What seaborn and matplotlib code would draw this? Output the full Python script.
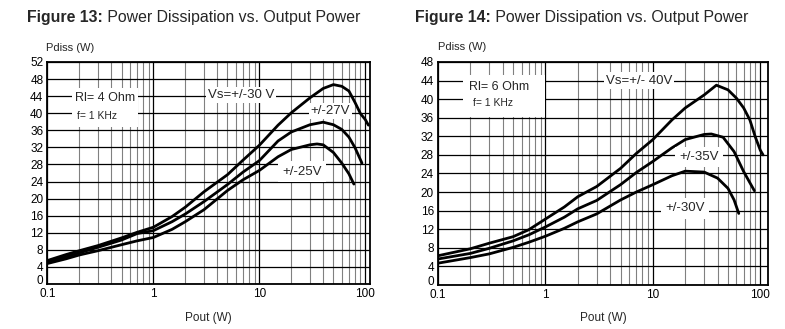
import matplotlib
matplotlib.use("Agg")
import matplotlib.pyplot as plt
from matplotlib.patches import Rectangle
from matplotlib.ticker import LogLocator, NullFormatter, FixedLocator, FixedFormatter
import numpy as np
import pandas as pd
import seaborn as sns

# ---------------- data ----------------
# Figure 13 : Rl = 4 Ohm
f13_x_30 = [0.1, 0.15, 0.2, 0.3, 0.5, 0.7, 1, 1.5, 2, 3, 5, 7, 10, 15, 20, 30, 40, 50, 60, 70, 80, 90, 100, 107]
f13_y_30 = [5.5, 6.9, 7.8, 9.0, 10.8, 12.1, 13.3, 15.8, 18.0, 21.6, 25.6, 29.0, 32.5, 37.2, 40.1, 43.6, 45.8, 46.7, 46.3, 45.2, 42.5, 39.9, 38.5, 37.2]
f13_x_27 = [0.1, 0.15, 0.2, 0.3, 0.5, 0.7, 1, 1.5, 2, 3, 5, 7, 10, 15, 20, 30, 40, 50, 60, 70, 80, 93]
f13_y_27 = [5.1, 6.4, 7.3, 8.6, 10.3, 11.8, 12.5, 14.6, 16.4, 19.3, 23.3, 26.2, 28.9, 33.5, 35.6, 37.3, 37.9, 37.3, 36.2, 34.4, 31.9, 28.3]
f13_x_25 = [0.1, 0.15, 0.2, 0.3, 0.5, 0.7, 1, 1.5, 2, 3, 5, 7, 10, 15, 20, 30, 35, 40, 50, 60, 70, 78]
f13_y_25 = [4.8, 5.9, 6.8, 7.8, 9.2, 10.1, 10.9, 12.8, 14.6, 17.4, 21.9, 24.4, 26.6, 29.8, 31.5, 32.6, 32.8, 32.6, 30.8, 28.3, 25.8, 23.4]

# Figure 14 : Rl = 6 Ohm
f14_x_40 = [0.1, 0.2, 0.3, 0.5, 0.7, 1, 1.5, 2, 3, 5, 7, 10, 15, 20, 30, 39, 50, 60, 70, 80, 90, 100, 106]
f14_y_40 = [6.3, 7.8, 9.0, 10.4, 11.9, 14.2, 16.8, 19.0, 21.2, 25.1, 28.3, 31.3, 35.5, 38.1, 40.9, 43.0, 42.0, 40.2, 38.1, 35.5, 31.8, 29.0, 28.0]
f14_x_35 = [0.1, 0.2, 0.3, 0.5, 0.7, 1, 1.5, 2, 3, 5, 7, 10, 15, 20, 30, 35, 45, 57, 70, 80, 88]
f14_y_35 = [5.6, 6.8, 7.9, 9.5, 10.8, 12.5, 14.6, 16.4, 18.2, 21.6, 24.2, 26.6, 29.5, 31.3, 32.4, 32.5, 31.8, 28.7, 24.4, 22.0, 20.3]
f14_x_30 = [0.1, 0.2, 0.3, 0.5, 0.7, 1, 1.5, 2, 3, 5, 7, 10, 15, 20, 30, 40, 50, 57, 63]
f14_y_30 = [4.7, 5.9, 6.7, 8.1, 9.2, 10.5, 12.2, 13.6, 15.3, 18.3, 20.0, 21.6, 23.5, 24.5, 24.3, 23.0, 20.8, 18.3, 15.4]

x_ticks = [0.1, 1, 10, 100]
x_tick_labels = ["0.1", "1", "10", "100"]
y_ticks_13 = list(range(0, 53, 4))
y_ticks_14 = list(range(0, 49, 4))


def frame(pairs):
    rows = []
    for name, xs, ys in pairs:
        for xv, yv in zip(xs, ys):
            rows.append({"series": name, "x": xv, "y": yv})
    return pd.DataFrame(rows)


df13 = frame([("30", f13_x_30, f13_y_30), ("27", f13_x_27, f13_y_27), ("25", f13_x_25, f13_y_25)])
df14 = frame([("40", f14_x_40, f14_y_40), ("35", f14_x_35, f14_y_35), ("30", f14_x_30, f14_y_30)])

# ---------------- style ----------------
sns.set_theme(style="white")
plt.rcParams['font.family'] = ['Liberation Sans', 'DejaVu Sans']

fig = plt.figure(figsize=(7.85, 3.29), dpi=100)
ax1 = fig.add_axes([0.0605, 0.1368, 0.411, 0.6748])
ax2 = fig.add_axes([0.558, 0.1337, 0.4204, 0.678])


def style_axes(ax, xmax, ymax, yticks):
    ax.set_xscale('log')
    ax.set_xlim(0.1, xmax)
    ax.set_ylim(0, ymax)
    ax.xaxis.set_major_locator(FixedLocator(x_ticks))
    ax.xaxis.set_major_formatter(FixedFormatter(x_tick_labels))
    ax.xaxis.set_minor_locator(LogLocator(base=10, subs=range(2, 10)))
    ax.xaxis.set_minor_formatter(NullFormatter())
    ax.set_yticks(yticks)
    ax.set_yticklabels([str(v) for v in yticks])
    ax.tick_params(axis='both', which='both', length=0, labelsize=8.5, colors='black')
    ax.tick_params(axis='y', pad=3)
    ax.tick_params(axis='x', pad=3)
    ax.grid(True, which='major', axis='both', color='black', lw=0.9)
    ax.grid(True, which='minor', axis='x', color='#808080', lw=0.8)
    for s in ax.spines.values():
        s.set_color('black')
        s.set_linewidth(1.3)
        s.set_visible(True)
    ax.set_xlabel("")
    ax.set_ylabel("")
    # the "0" label sits just above the corner, as in the reference
    ax.get_yticklabels()[0].set_va('baseline')


for ax, df in ((ax1, df13), (ax2, df14)):
    sns.lineplot(data=df, x="x", y="y", hue="series", palette=["black"] * 3,
                 estimator=None, sort=False, legend=False, lw=2.0, ax=ax,
                 solid_joinstyle='round', solid_capstyle='round')

style_axes(ax1, 111, 52, y_ticks_13)
style_axes(ax2, 118, 48, y_ticks_14)

box = dict(facecolor='white', edgecolor='none', pad=1.5)
box3 = dict(facecolor='white', edgecolor='none', pad=3)

# Figure 13 annotations
ax1.add_patch(Rectangle((0.076, 0.707), 0.205, 0.176, transform=ax1.transAxes,
                        facecolor='white', edgecolor='none', zorder=2.5))
ax1.text(0.18, 43.6, "Rl= 4 Ohm", fontsize=9, ha='left', va='center', zorder=3)
ax1.text(0.19, 39.3, "f= 1 KHz", fontsize=7.5, ha='left', va='center', zorder=3)
ax1.text(6.7, 44.2, "Vs=+/-30 V", fontsize=9.5, ha='center', va='center', bbox=box, zorder=5)
ax1.text(47, 40.6, "+/-27V", fontsize=9.5, ha='center', va='center', bbox=box, zorder=5)
ax1.text(25.5, 26.3, "+/-25V", fontsize=9.5, ha='center', va='center', bbox=box3, zorder=5)

# Figure 14 annotations
ax2.add_patch(Rectangle((0.076, 0.753), 0.248, 0.19, transform=ax2.transAxes,
                        facecolor='white', edgecolor='none', zorder=2.5))
ax2.text(0.195, 42.7, "Rl= 6 Ohm", fontsize=9, ha='left', va='center', zorder=3)
ax2.text(0.21, 39.2, "f= 1 KHz", fontsize=7.5, ha='left', va='center', zorder=3)
ax2.text(7.4, 44.0, "Vs=+/- 40V", fontsize=9.5, ha='center', va='center', bbox=box, zorder=5)
ax2.text(26.9, 27.5, "+/-35V", fontsize=9.5, ha='center', va='center', bbox=box3, zorder=5)
ax2.text(19.9, 16.5, "+/-30V", fontsize=9.5, ha='center', va='center', bbox=box3, zorder=5)

# axis titles
fig.text(0.058, 0.855, "Pdiss (W)", fontsize=8, ha='left', va='center')
fig.text(0.558, 0.857, "Pdiss (W)", fontsize=8, ha='left', va='center')
fig.text(0.266, 0.034, "Pout (W)", fontsize=8.5, ha='center', va='center')
fig.text(0.769, 0.034, "Pout (W)", fontsize=8.5, ha='center', va='center')

# figure titles (bold prefix + regular text)
renderer = fig.canvas.get_renderer()
for x0, prefix, rest in ((0.0344, "Figure 13:", " Power Dissipation vs. Output Power"),
                         (0.5287, "Figure 14:", " Power Dissipation vs. Output Power")):
    t = fig.text(x0, 0.946, prefix, fontsize=11.4, fontweight='bold', ha='left', va='center')
    bb = t.get_window_extent(renderer=renderer)
    x1 = fig.transFigure.inverted().transform((bb.x1, bb.y0))[0]
    fig.text(x1, 0.946, rest, fontsize=11.4, ha='left', va='center')

fig.savefig("out.png", dpi=100)
